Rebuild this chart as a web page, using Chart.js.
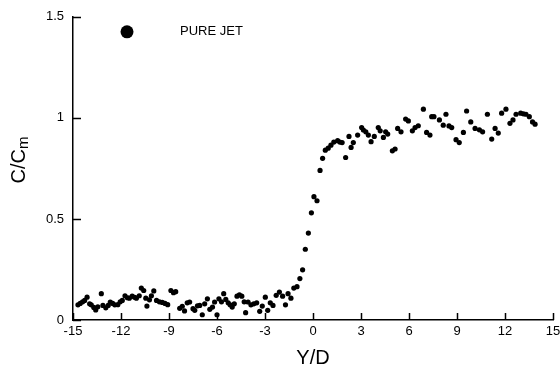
<!DOCTYPE html>
<html>
<head>
<meta charset="utf-8">
<script src="https://cdn.jsdelivr.net/npm/chart.js@4.4.1/dist/chart.umd.min.js"></script>
<style>
  html, body { margin: 0; padding: 0; background: #fff; overflow: hidden; }
  #wrap { width: 572px; height: 371px; }
</style>
</head>
<body>
<div id="wrap"><canvas id="myChart"></canvas></div>
<script>
// Y/D positions and C/Cm values
const yd = [
  -14.69, -14.55, -14.4, -14.27, -14.12, -13.96, -13.86, -13.7, -13.58, -13.45,
  -13.23, -13.13, -12.95, -12.8, -12.67, -12.52, -12.39, -12.2, -12.05, -11.92,
  -11.75, -11.6, -11.48, -11.3, -11.15, -11.04, -10.86, -10.73, -10.58, -10.45,
  -10.38, -10.22, -10.1, -9.95, -9.78, -9.6, -9.42, -9.25, -9.08, -8.88,
  -8.72, -8.58, -8.33, -8.17, -8.03, -7.86, -7.71, -7.5, -7.39, -7.22,
  -7.08, -6.92, -6.77, -6.6, -6.45, -6.28, -6.15, -6.0, -5.88, -5.72,
  -5.58, -5.45, -5.3, -5.18, -5.05, -4.92, -4.75, -4.6, -4.45, -4.3,
  -4.21, -4.06, -3.88, -3.7, -3.52, -3.33, -3.17, -2.98, -2.83, -2.67,
  -2.5, -2.3, -2.1, -1.9, -1.72, -1.56, -1.38, -1.2, -1.0, -0.82,
  -0.65, -0.48, -0.29, -0.1, 0.06, 0.25, 0.44, 0.6, 0.77, 0.95,
  1.12, 1.3, 1.54, 1.68, 1.82, 2.04, 2.25, 2.38, 2.52, 2.79,
  3.04, 3.15, 3.3, 3.46, 3.63, 3.83, 4.08, 4.2, 4.4, 4.54,
  4.67, 4.96, 5.13, 5.29, 5.5, 5.79, 5.96, 6.21, 6.38, 6.58,
  6.9, 7.1, 7.31, 7.42, 7.56, 7.9, 8.14, 8.31, 8.5, 8.67,
  8.94, 9.14, 9.4, 9.6, 9.86, 10.13, 10.4, 10.6, 10.9, 11.17,
  11.38, 11.58, 11.79, 12.06, 12.31, 12.5, 12.69, 12.98, 13.15, 13.31,
  13.52, 13.72, 13.88
];
const ccm = [
  0.075, 0.082, 0.09, 0.097, 0.113, 0.08, 0.075, 0.062, 0.05, 0.065,
  0.13, 0.072, 0.06, 0.072, 0.089, 0.082, 0.075, 0.076, 0.09, 0.097,
  0.12, 0.11, 0.108, 0.118, 0.112, 0.108, 0.12, 0.158, 0.146, 0.108,
  0.069, 0.1, 0.12, 0.144, 0.097, 0.09, 0.087, 0.082, 0.076, 0.146,
  0.135, 0.14, 0.058, 0.068, 0.045, 0.085, 0.089, 0.056, 0.048, 0.07,
  0.072, 0.026, 0.08, 0.105, 0.053, 0.064, 0.089, 0.026, 0.105, 0.09,
  0.13, 0.102, 0.085, 0.075, 0.064, 0.08, 0.118, 0.125, 0.118, 0.09,
  0.036, 0.089, 0.075, 0.08, 0.085, 0.043, 0.069, 0.113, 0.048, 0.085,
  0.072, 0.122, 0.138, 0.118, 0.075, 0.13, 0.108, 0.158, 0.165, 0.205,
  0.248, 0.35, 0.43, 0.53, 0.61, 0.59, 0.74, 0.80, 0.84, 0.85,
  0.865, 0.88, 0.887, 0.88, 0.878, 0.804, 0.908, 0.854, 0.878, 0.915,
  0.952, 0.94, 0.931, 0.915, 0.882, 0.908, 0.952, 0.936, 0.903, 0.931,
  0.92, 0.837, 0.846, 0.948, 0.931, 0.994, 0.985, 0.936, 0.952, 0.961,
  1.043, 0.928, 0.915, 1.006, 1.006, 0.99, 0.964, 1.018, 0.96, 0.952,
  0.892, 0.878, 0.928, 1.034, 0.98, 0.948, 0.941, 0.931, 1.018, 0.895,
  0.948, 0.925, 1.023, 1.043, 0.973, 0.99, 1.018, 1.023, 1.02, 1.018,
  1.006, 0.98, 0.969
];
const xTicks = [-15, -12, -9, -6, -3, 0, 3, 6, 9, 12, 15];
const yTicks = [0, 0.5, 1, 1.5];
const seriesName = 'PURE JET';

const font = "'Liberation Sans', Arial, sans-serif";

// inward tick marks, legend and the y title with subscript
const extras = {
  id: 'extras',
  afterDraw(chart) {
    const c = chart.ctx;
    const a = chart.chartArea;
    const sx = chart.scales.x, sy = chart.scales.y;
    c.save();
    c.strokeStyle = '#000';
    c.lineWidth = 1.5;
    c.beginPath();
    xTicks.forEach(v => {
      const px = Math.round(sx.getPixelForValue(v)) + 0.5;
      c.moveTo(px, a.bottom);
      c.lineTo(px, a.bottom - 7);
    });
    yTicks.forEach(v => {
      const py = Math.round(sy.getPixelForValue(v)) + 0.5;
      c.moveTo(a.left, py);
      c.lineTo(a.left + 8, py);
    });
    c.stroke();

    // legend
    c.fillStyle = '#000';
    c.beginPath();
    c.arc(a.left + 54, a.top + 15, 6.5, 0, Math.PI * 2);
    c.fill();
    c.font = '13px ' + font;
    c.textBaseline = 'middle';
    c.fillText(seriesName, a.left + 107, a.top + 15);

    // y title  C/Cm
    c.translate(19, 160);
    c.rotate(-Math.PI / 2);
    c.font = '20px ' + font;
    const w1 = c.measureText('C/C').width;
    c.font = '15px ' + font;
    const w2 = c.measureText('m').width;
    const start = -(w1 + w2) / 2;
    c.font = '20px ' + font;
    c.fillText('C/C', start, 0);
    c.font = '15px ' + font;
    c.fillText('m', start + w1, 5);
    c.restore();
  }
};

new Chart(document.getElementById('myChart'), {
  type: 'scatter',
  data: {
    datasets: [{
      label: seriesName,
      data: yd.map((x, i) => ({ x: x, y: ccm[i] })),
      backgroundColor: '#000',
      borderColor: '#000',
      pointRadius: 2.6,
      pointBorderWidth: 0
    }]
  },
  options: {
    responsive: true,
    maintainAspectRatio: false,
    animation: false,
    layout: { padding: { left: 0, right: 19, top: 15, bottom: 0 } },
    plugins: { legend: { display: false }, tooltip: { enabled: false } },
    scales: {
      x: {
        type: 'linear',
        min: -15,
        max: 15,
        afterBuildTicks: s => { s.ticks = xTicks.map(v => ({ value: v })); },
        afterFit: s => { s.height = 51; },
        grid: { display: true, drawOnChartArea: false, drawTicks: false },
        border: { display: true, color: '#000', width: 1.5 },
        ticks: { color: '#000', padding: 4, font: { family: font, size: 13 }, maxRotation: 0, callback: v => String(v) },
        title: { display: true, text: 'Y/D', color: '#000', font: { family: font, size: 20 }, padding: { top: 0, bottom: 1 } }
      },
      y: {
        type: 'linear',
        min: 0,
        max: 1.5,
        afterBuildTicks: s => { s.ticks = yTicks.map(v => ({ value: v })); },
        afterFit: s => { s.width = 73; },
        grid: { display: true, drawOnChartArea: false, drawTicks: false },
        border: { display: true, color: '#000', width: 1.5 },
        ticks: { color: '#000', padding: 9, font: { family: font, size: 13 }, callback: v => String(v) }
      }
    }
  },
  plugins: [extras]
});
</script>
</body>
</html>
